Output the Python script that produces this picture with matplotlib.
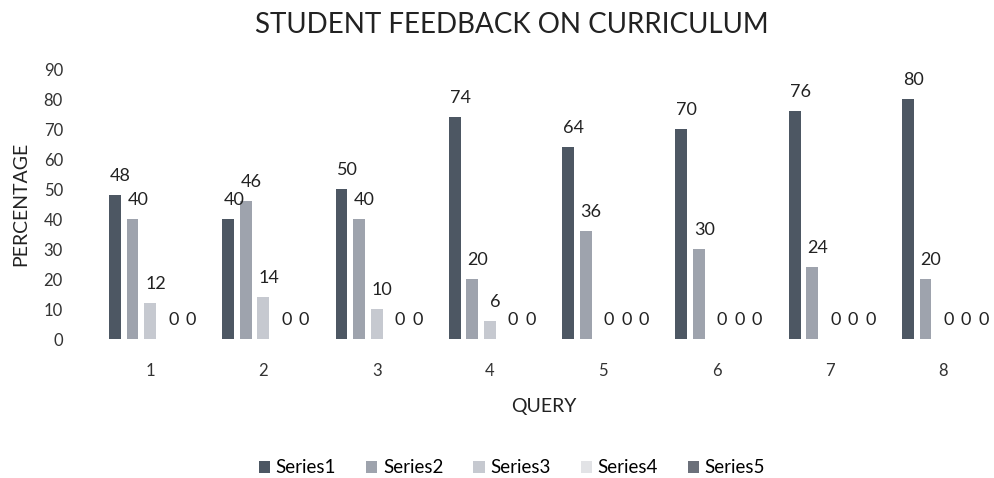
import numpy as np
import matplotlib.pyplot as plt

plt.rcParams['font.family'] = ['Lato', 'DejaVu Sans']

queries = ['1', '2', '3', '4', '5', '6', '7', '8']
series_names = ['Series1', 'Series2', 'Series3', 'Series4', 'Series5']
series1 = [48, 40, 50, 74, 64, 70, 76, 80]
series2 = [40, 46, 40, 20, 36, 30, 24, 20]
series3 = [12, 14, 10, 6, 0, 0, 0, 0]
series4 = [0, 0, 0, 0, 0, 0, 0, 0]
series5 = [0, 0, 0, 0, 0, 0, 0, 0]
all_series = [series1, series2, series3, series4, series5]

colors = ['#4d5763', '#9ea3ad', '#c6c9d0', '#e2e3e6', '#6b707a']

fig = plt.figure(figsize=(9.94, 4.78), dpi=100)
ax = fig.add_axes([0.094, 0.29, 0.906, 0.565])

x = np.arange(1, len(queries) + 1)
step = 0.155
width = 0.105
for i, (name, vals) in enumerate(zip(series_names, all_series)):
    pos = x + (i - 2) * step
    bars = ax.bar(pos, vals, width, color=colors[i], label=name)
    for xp, v in zip(pos, vals):
        ax.annotate(str(v), (xp, v), xytext=(4, 8), textcoords='offset points',
                    ha='center', va='bottom', fontsize=13, color='#222222')

ax.set_xlim(0.5, 8.45)
ax.set_ylim(0, 90)
ax.set_yticks(range(0, 91, 10))
ax.set_xticks(x)
ax.set_xticklabels(queries)
ax.tick_params(length=0, labelsize=12, colors='#333333')
ax.tick_params(axis='y', pad=22)
ax.tick_params(axis='x', pad=17)
for s in ax.spines.values():
    s.set_visible(False)

ax.set_ylabel('PERCENTAGE', fontsize=14, color='#222222', labelpad=10)
ax.set_xlabel('QUERY', fontsize=14, color='#222222', labelpad=14)
fig.suptitle('STUDENT FEEDBACK ON CURRICULUM', fontsize=20, color='#222222',
             x=0.515, y=0.975)

fig.legend(loc='lower center', bbox_to_anchor=(0.515, -0.032), ncol=5, frameon=False,
           fontsize=13.5, handlelength=0.6, handleheight=0.6, columnspacing=1.6,
           handletextpad=0.3)

fig.savefig('out.png', dpi=100)
